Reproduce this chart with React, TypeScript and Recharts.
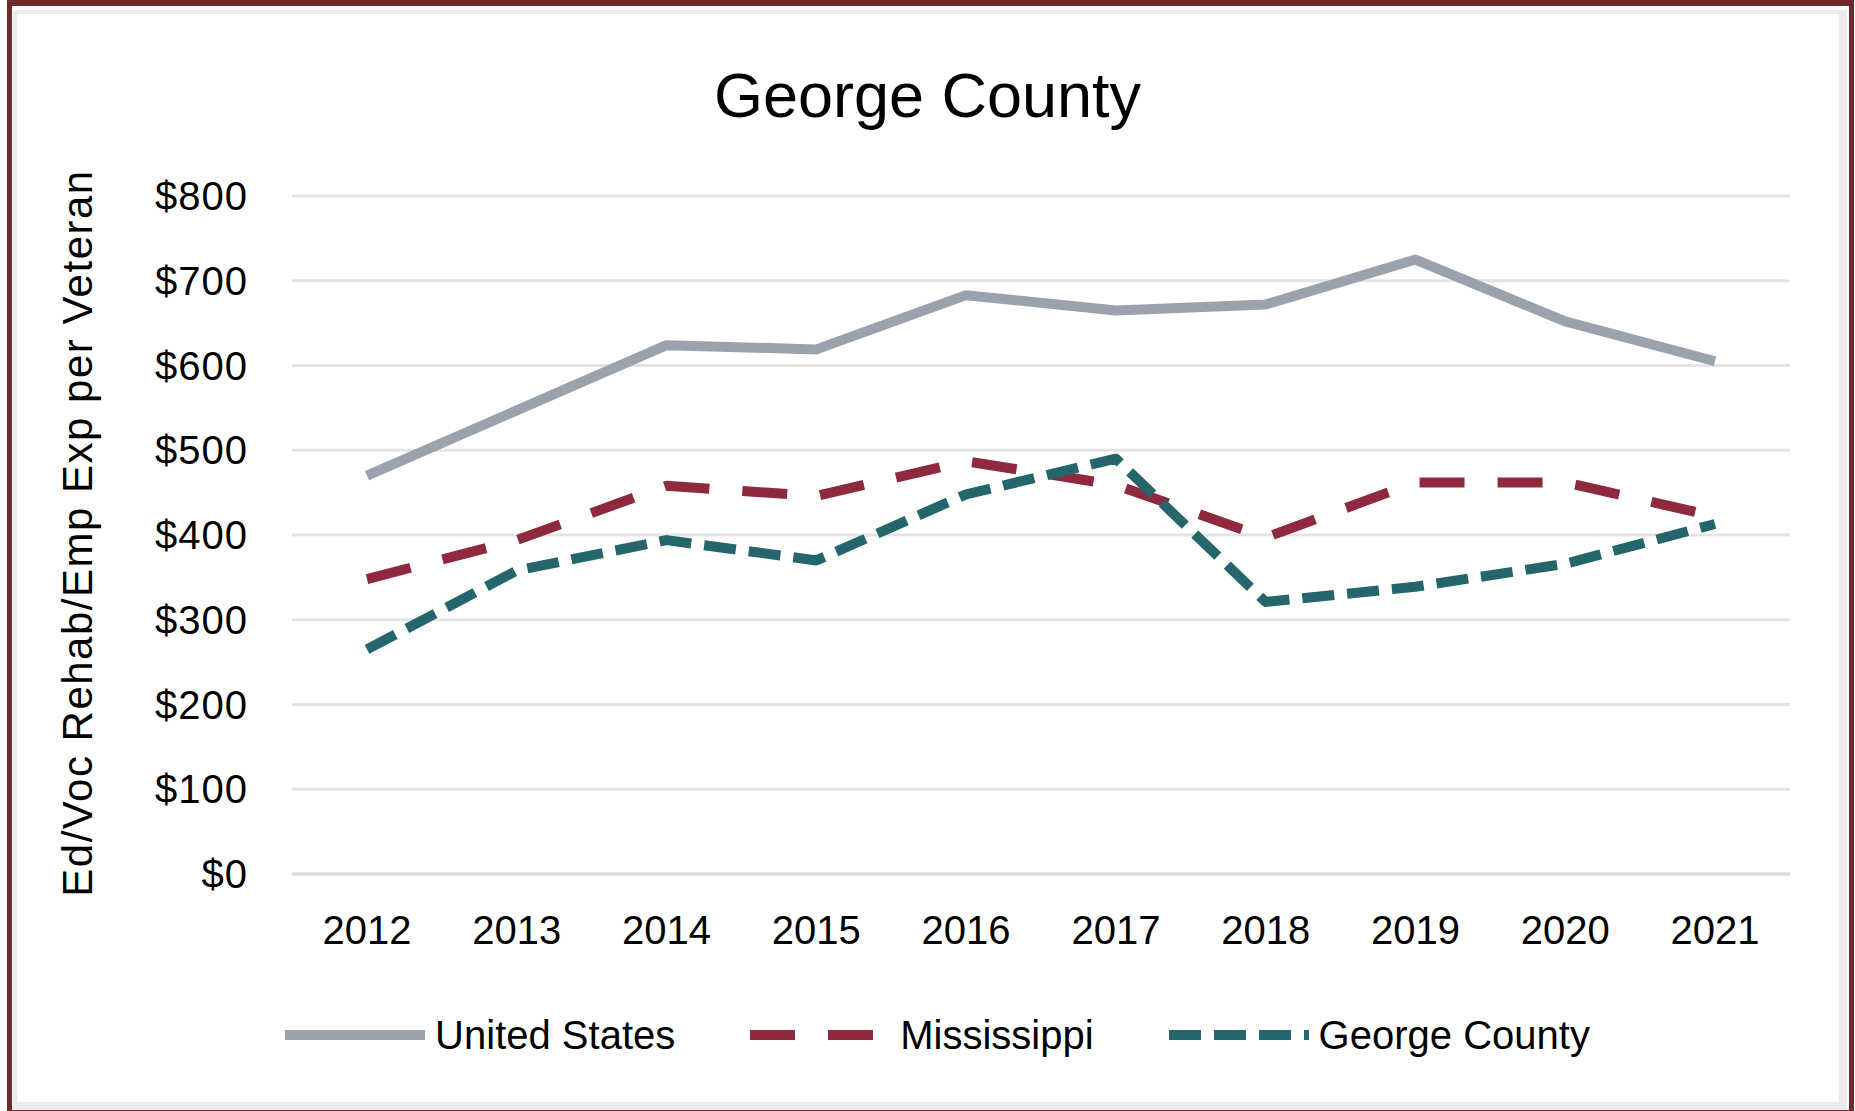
import { LineChart, Line, XAxis, YAxis, CartesianGrid, Legend, Label } from 'recharts';

const years = ['2012', '2013', '2014', '2015', '2016', '2017', '2018', '2019', '2020', '2021'];
const unitedStates = [470, 547, 624, 619, 683, 665, 672, 725, 652, 605];
const mississippi = [348, 394, 458, 446, 487, 459, 397, 462, 462, 422];
const georgeCounty = [265, 358, 394, 370, 448, 490, 321, 339, 366, 413];
const yTicks = [0, 100, 200, 300, 400, 500, 600, 700, 800];

const seriesStyle = [
  { key: 'us', name: 'United States', color: '#9AA3AD', dash: undefined as string | undefined },
  { key: 'ms', name: 'Mississippi', color: '#8F2A3E', dash: '45 33' },
  { key: 'gc', name: 'George County', color: '#24666B', dash: '32 13' },
];

const data = years.map((year, i) => ({
  year,
  us: unitedStates[i],
  ms: mississippi[i],
  gc: georgeCounty[i],
}));

const font = '"Liberation Sans", Arial, sans-serif';

function renderLegend() {
  return (
    <div style={{ display: 'flex', justifyContent: 'center', alignItems: 'center', fontFamily: font, paddingLeft: 20 }}>
      {seriesStyle.map((s, i) => (
        <div key={s.key} style={{ display: 'flex', alignItems: 'center', marginRight: i < seriesStyle.length - 1 ? 75 : 0 }}>
          <svg width={140} height={20}>
            <line x1={0} y1={10} x2={140} y2={10} stroke={s.color} strokeWidth={10} strokeDasharray={s.dash} />
          </svg>
          <span style={{ marginLeft: 10, fontSize: 40, color: '#000', lineHeight: '46px' }}>{s.name}</span>
        </div>
      ))}
    </div>
  );
}

export default function App() {
  return (
    <div style={{ position: 'absolute', left: 0, top: 0, width: 1855, height: 1111, background: '#fff', overflow: 'hidden' }}>
      <div
        style={{
          position: 'absolute', left: 7, top: 0, width: 1847, height: 1113, boxSizing: 'border-box',
          borderStyle: 'solid', borderColor: '#6F2A2B', borderWidth: '6px 5px 3px 5px',
        }}
      />
      <div
        style={{
          position: 'absolute', left: 13, top: 10, width: 1834, height: 1100, boxSizing: 'border-box',
          borderStyle: 'solid', borderColor: '#EBEBEB', borderWidth: '4px 8px 8px 4px',
        }}
      />
      <div
        style={{
          position: 'absolute', left: 0, top: 64, width: 1855, textAlign: 'center',
          fontFamily: font, fontSize: 63, lineHeight: '63px', color: '#000',
        }}
      >
        George County
      </div>
      <div style={{ position: 'absolute', left: 0, top: 0 }}>
        <LineChart width={1855} height={1111} data={data} margin={{ top: 196, right: 65, bottom: 177, left: 0 }}>
          <CartesianGrid vertical={false} stroke="#E4E4E4" strokeWidth={3} />
          <XAxis
            dataKey="year"
            padding={{ left: 75, right: 75 }}
            height={60}
            tickLine={false}
            tickSize={0}
            tickMargin={42}
            axisLine={{ stroke: '#D9D9D9', strokeWidth: 3 }}
            tick={{ fill: '#000', fontSize: 40, fontFamily: font }}
            interval={0}
          />
          <YAxis
            width={292}
            domain={[0, 800]}
            ticks={yTicks}
            tickFormatter={(v: number) => `$${v}`}
            axisLine={false}
            tickLine={false}
            tickSize={0}
            tickMargin={44}
            tick={{ fill: '#000', fontSize: 40, fontFamily: font, letterSpacing: 1 }}
          >
            <Label
              content={() => (
                <text
                  x={77}
                  y={533}
                  transform="rotate(-90 77 533)"
                  textAnchor="middle"
                  dominantBaseline="central"
                  fontFamily={font}
                  fontSize={42}
                  letterSpacing={1.5}
                  fill="#000"
                >
                  Ed/Voc Rehab/Emp Exp per Veteran
                </text>
              )}
            />
          </YAxis>
          {seriesStyle.map((s) => (
            <Line
              key={s.key}
              type="linear"
              dataKey={s.key}
              name={s.name}
              stroke={s.color}
              strokeWidth={10}
              strokeDasharray={s.dash}
              strokeLinejoin="round"
              dot={false}
              activeDot={false}
              isAnimationActive={false}
            />
          ))}
          <Legend
            layout="horizontal"
            verticalAlign="middle"
            align="center"
            content={renderLegend}
            wrapperStyle={{ left: 0, top: 1012, width: 1855 }}
          />
        </LineChart>
      </div>
    </div>
  );
}
